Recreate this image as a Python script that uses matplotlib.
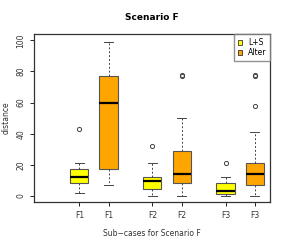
import matplotlib
matplotlib.use("Agg")
import matplotlib.pyplot as plt
from matplotlib.patches import Patch

# box statistics
labels = ["F1", "F1", "F2", "F2", "F3", "F3"]
groups = ["L+S", "Alter", "L+S", "Alter", "L+S", "Alter"]
whislo = [2, 7, 0, 0, 0, 0]
q1 = [8, 17, 4.3, 8, 1, 7]
med = [12, 60, 9.3, 14, 3, 14]
q3 = [17, 77, 12, 29, 8, 21]
whishi = [21, 99, 21, 50, 12, 41]
fliers = [[43], [], [32], [77, 78], [21], [58, 77, 78]]

colors = {"L+S": "#ffff00", "Alter": "#ffa500"}
pos = [2, 4, 7, 9, 12, 14]

stats = []
for i in range(len(labels)):
    stats.append(dict(whislo=whislo[i], q1=q1[i], med=med[i], q3=q3[i],
                      whishi=whishi[i], fliers=fliers[i]))

fig = plt.figure(figsize=(2.88, 2.45), dpi=100)
ax = fig.add_axes([0.118, 0.177, 0.82, 0.684])

bp = ax.bxp(stats, positions=pos, widths=1.24, patch_artist=True,
            boxprops=dict(edgecolor="#555555", linewidth=0.8),
            medianprops=dict(color="black", linewidth=1.6),
            whiskerprops=dict(color="#444444", linestyle=(0, (2, 2)), linewidth=0.7),
            capprops=dict(color="#444444", linewidth=0.7),
            flierprops=dict(marker="o", markersize=3, markerfacecolor="none",
                            markeredgecolor="#444444", markeredgewidth=0.7),
            capwidths=0.62)
for b, g in zip(bp["boxes"], groups):
    b.set_facecolor(colors[g])

ax.set_xlim(-1.1, 15.05)
ax.set_ylim(-3.7, 104)
ax.set_xticks(pos)
ax.set_xticklabels(labels, fontsize=5.5, color="#333333")
ax.set_yticks([0, 20, 40, 60, 80, 100])
ax.set_yticklabels(["0", "20", "40", "60", "80", "100"], fontsize=5.5,
                   rotation=90, va="center", color="#333333")
ax.tick_params(length=3, width=0.6, pad=3)
ax.tick_params(axis="x", pad=4)
for s in ax.spines.values():
    s.set_linewidth(0.9)
    s.set_color("#333333")

ax.set_title("Scenario F", fontsize=6.5, fontweight="bold", pad=10)
ax.set_xlabel("Sub\u2212cases for Scenario F", fontsize=5.5, labelpad=6, color="#333333")
ax.set_ylabel("distance", fontsize=5.5, labelpad=4, color="#333333")

handles = [Patch(facecolor=colors["L+S"], edgecolor="#333333", linewidth=0.6, label="L+S"),
           Patch(facecolor=colors["Alter"], edgecolor="#333333", linewidth=0.6, label="Alter")]
ax.legend(handles=handles, loc="upper right", bbox_to_anchor=(1.0, 1.0),
          fontsize=5.5, frameon=True, fancybox=False, edgecolor="#777777",
          handlelength=0.6, handleheight=0.6, handletextpad=0.7,
          borderpad=0.5, labelspacing=0.2, borderaxespad=0)

fig.savefig("out.png", dpi=100)
